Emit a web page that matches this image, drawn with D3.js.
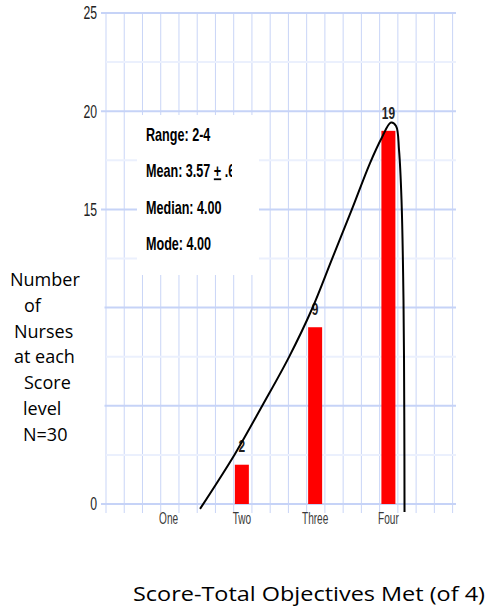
<!DOCTYPE html>
<html>
<head>
<meta charset="utf-8">
<script src="https://cdn.jsdelivr.net/npm/d3@7"></script>
<style>
  html, body { margin: 0; padding: 0; background: #fff; }
  svg { display: block; }
</style>
</head>
<body>
<svg id="chart" width="491" height="611"></svg>
<script>
// ---- data ----
const categories = ["One", "Two", "Three", "Four"];
const nurseCounts = [0, 2, 9, 19];
const yTickValues = [0, 5, 10, 15, 20, 25];
const yMinorValues = [2.5, 7.5, 12.5, 17.5, 22.5];
// hand-drawn fitted curve (x in score units 1..4, y in counts)
const curveScore = [1.429, 1.906, 2.284, 2.643, 2.957, 3.230, 3.499, 3.749, 3.908, 4.035, 4.104, 4.145, 4.179, 4.206, 4.217, 4.220];
const curveCount = [-0.25, 2.55, 5.04, 7.48, 9.93, 12.47, 14.97, 17.36, 18.64, 19.42, 19.25, 18.02, 15.48, 10.39, 4.28, -0.41];
const statsLines = ["Range: 2-4", "Mean: 3.57 \u00b1 .67", "Median: 4.00", "Mode: 4.00"];
const yTitleLines = ["Number", "of", "Nurses", "at each", "Score", "level", "N=30"];
const xTitle = "Score-Total Objectives Met (of 4)";

// ---- layout ----
const svg = d3.select("#chart");
const y = d3.scaleLinear().domain([0, 25]).range([504, 13]);
const x = d3.scalePoint().domain(categories).range([168.6, 388.4]);
const xs = d3.scaleLinear().domain([1, 4]).range([168.6, 388.4]);
const gridX = d3.scaleLinear().domain([0, 19]).range([106, 452.6]);
const barW = 14;
const narrow = "'Liberation Sans', Arial, sans-serif";

// vertical grid lines
svg.append("g").selectAll("line").data(d3.range(0, 20)).join("line")
  .attr("x1", d => gridX(d)).attr("x2", d => gridX(d))
  .attr("y1", y(25)).attr("y2", y(0) + 9)
  .attr("stroke", "#c9d5f7").attr("stroke-width", 1);

// minor horizontal grid
svg.append("g").selectAll("line").data(yMinorValues).join("line")
  .attr("x1", 106).attr("x2", 456)
  .attr("y1", d => y(d)).attr("y2", d => y(d))
  .attr("stroke", "#ebf0fd").attr("stroke-width", 2);

// major horizontal grid
svg.append("g").selectAll("line").data(yTickValues).join("line")
  .attr("x1", 101).attr("x2", 456)
  .attr("y1", d => y(d)).attr("y2", d => y(d))
  .attr("stroke", "#c6d3f7").attr("stroke-width", 2);

// y tick labels
svg.append("g").selectAll("text").data(yTickValues).join("text")
  .attr("transform", d => `translate(97,${y(d) + 6.3}) scale(0.68,1)`)
  .attr("text-anchor", "end")
  .attr("font-family", narrow).attr("font-size", 18)
  .attr("fill", "#222").text(d => d);

// category labels
svg.append("g").selectAll("text").data(categories).join("text")
  .attr("transform", d => `translate(${x(d)},523.5) scale(0.63,1)`)
  .attr("text-anchor", "middle")
  .attr("font-family", narrow).attr("font-size", 16)
  .attr("fill", "#3a3a3a").text(d => d);

// white panel behind the y title (hides part of the axis, as in the original)
svg.append("rect").attr("x", 0).attr("y", 250).attr("width", 104.5).attr("height", 232).attr("fill", "#fff");

// stats box (white panel over grid)
svg.append("rect").attr("x", 137).attr("y", 115).attr("width", 122).attr("height", 160).attr("fill", "#fff");

const defs = svg.append("defs");
defs.append("clipPath").attr("id", "meanClip")
  .append("rect").attr("x", 137).attr("y", 150).attr("width", 95).attr("height", 40);

const statsG = svg.append("g");
statsLines.forEach((s, i) => {
  const parent = s.includes("\u00b1") ? statsG.append("g").attr("clip-path", "url(#meanClip)") : statsG;
  const t = parent.append("text")
    .attr("transform", `translate(146,${140.7 + i * 36.5}) scale(0.7,1)`)
    .attr("font-family", narrow).attr("font-size", 18).attr("font-weight", "bold")
    .attr("fill", "#000");
  if (s.includes("\u00b1")) {
    const parts = s.split("\u00b1");
    t.append("tspan").text(parts[0]);
    t.append("tspan").attr("text-decoration", "underline").text("+");
    t.append("tspan").text(parts[1]);
  } else {
    t.text(s);
  }
});

// bars
const barData = categories.map((c, i) => ({ c, v: nurseCounts[i] }));
svg.append("g").selectAll("rect").data(barData.filter(d => d.v > 0)).join("rect")
  .attr("x", d => x(d.c) - barW / 2).attr("width", barW)
  .attr("y", d => y(d.v)).attr("height", d => y(0) - y(d.v))
  .attr("fill", "#ff0000");

// bar value labels
svg.append("g").selectAll("text").data(barData.filter(d => d.v > 0)).join("text")
  .attr("transform", d => `translate(${x(d.c)},${y(d.v) - 12.3}) scale(0.7,1)`)
  .attr("text-anchor", "middle")
  .attr("font-family", narrow).attr("font-size", 17).attr("font-weight", "bold")
  .attr("fill", "#222").text(d => d.v);

// fitted curve
const curvePts = curveScore.map((s, i) => [xs(s), y(curveCount[i])]);
svg.append("path")
  .attr("d", d3.line().curve(d3.curveCatmullRom.alpha(0.5))(curvePts))
  .attr("fill", "none").attr("stroke", "#000").attr("stroke-width", 2);

// y title
const yTitleX = [10, 24, 14, 14, 24, 23, 23];
svg.append("g").selectAll("text").data(yTitleLines).join("text")
  .attr("x", (d, i) => yTitleX[i]).attr("y", (d, i) => 286 + i * 25.8)
  .attr("font-family", "'Open Sans', sans-serif").attr("font-size", 18)
  .attr("fill", "#000").text(d => d);

// x title
svg.append("text").attr("x", 133).attr("y", 600.7)
  .attr("font-family", "'Open Sans', sans-serif").attr("font-size", 19.5)
  .attr("textLength", 352).attr("lengthAdjust", "spacingAndGlyphs")
  .attr("fill", "#000").text(xTitle);
</script>
</body>
</html>
